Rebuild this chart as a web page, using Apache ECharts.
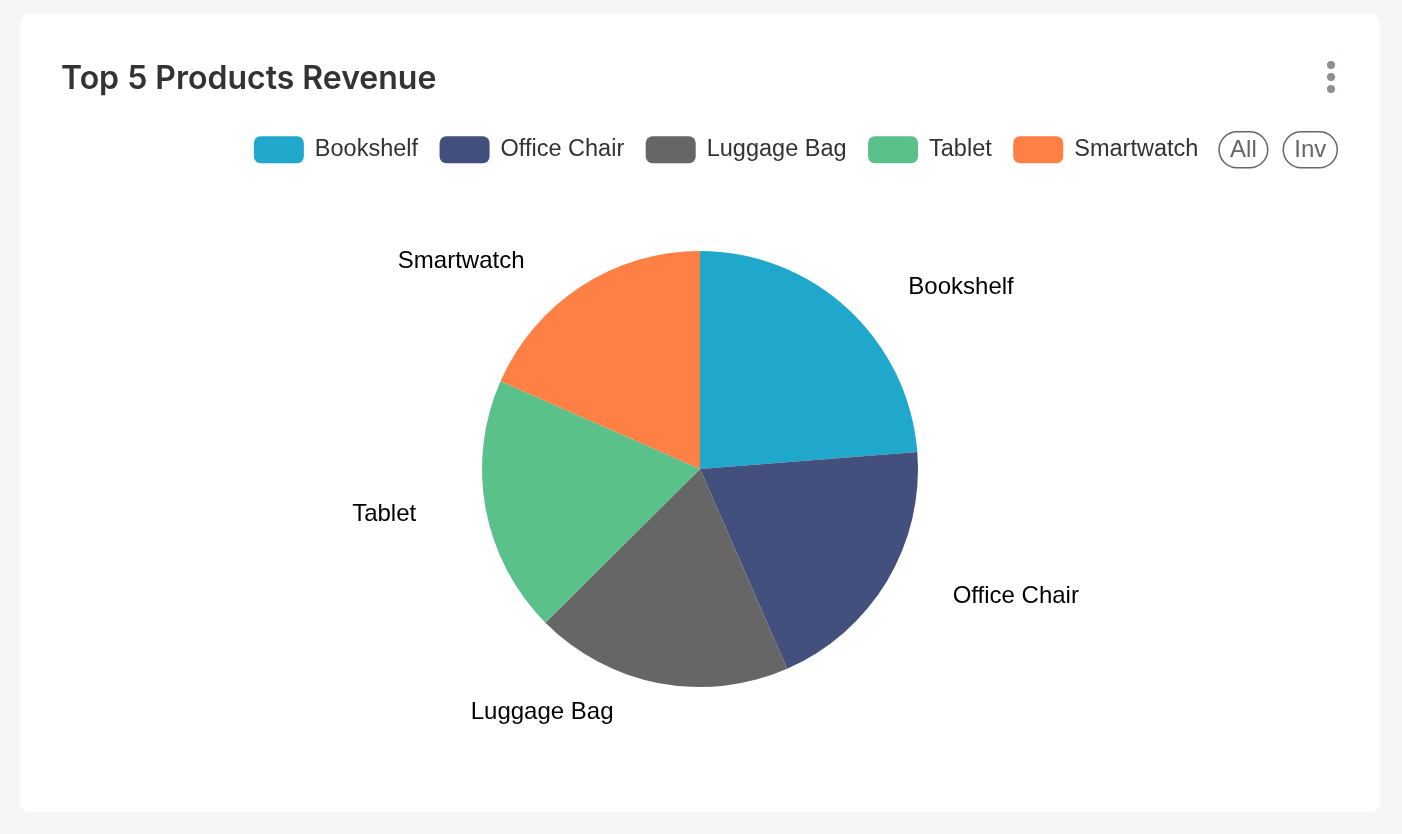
<!DOCTYPE html>
<html>
<head>
<meta charset="utf-8">
<script src="https://cdn.jsdelivr.net/npm/echarts@6/dist/echarts.min.js"></script>
<style>
  html, body { margin: 0; padding: 0; background: #f6f6f6; width: 1402px; height: 834px; overflow: hidden; }
  #card { position: absolute; left: 20px; top: 14px; width: 1360px; height: 798px; background: #fff; border-radius: 10px; }
  #chart { width: 1360px; height: 798px; }
</style>
</head>
<body>
<div id="card"><div id="chart"></div></div>
<script>
const titleText = 'Top 5 Products Revenue';
const categories = ['Bookshelf', 'Office Chair', 'Luggage Bag', 'Tablet', 'Smartwatch'];
const revenues = [47500, 39400, 38200, 38100, 36800];
const colors = ['#1fa8cb', '#434f7d', '#666666', '#5ac18a', '#fe8045'];

const chart = echarts.init(document.getElementById('chart'));
chart.setOption({
  animation: false,
  color: colors,
  title: {
    text: titleText,
    left: 41,
    top: 49,
    padding: 0,
    textStyle: { fontFamily: 'Inter', fontSize: 32, fontWeight: 600, color: '#333333' }
  },
  legend: {
    data: categories,
    right: 42,
    top: 117,
    padding: 0,
    icon: 'roundRect',
    itemWidth: 50,
    itemHeight: 27,
    itemGap: 21.5,
    textStyle: { fontFamily: 'Liberation Sans', fontSize: 23.5, color: '#333333', padding: [0, 0, 0, 6] },
    selector: [{ type: 'all', title: 'All' }, { type: 'inverse', title: 'Inv' }],
    selectorLabel: {
      fontFamily: 'Liberation Sans', fontSize: 24, color: '#666666',
      borderColor: '#666666', borderWidth: 1.5, borderRadius: 20, padding: [7, 11, 5, 11]
    },
    selectorItemGap: 14,
    selectorButtonGap: 20
  },
  graphic: [
    { type: 'circle', shape: { cx: 1311, cy: 51, r: 4 }, style: { fill: '#8a9096' } },
    { type: 'circle', shape: { cx: 1311, cy: 63, r: 4 }, style: { fill: '#8a9096' } },
    { type: 'circle', shape: { cx: 1311, cy: 75, r: 4 }, style: { fill: '#8a9096' } }
  ],
  series: [{
    type: 'pie',
    center: [680, 455],
    radius: 218,
    startAngle: 90,
    clockwise: true,
    data: categories.map((c, i) => ({ name: c, value: revenues[i] })),
    label: { show: true, position: 'outside', formatter: '{b}', fontFamily: 'Liberation Sans', fontSize: 24, color: '#000000', lineHeight: 30 },
    labelLine: { show: false, length: 30, length2: 35 },
    itemStyle: { borderWidth: 0 }
  }]
});
</script>
</body>
</html>
